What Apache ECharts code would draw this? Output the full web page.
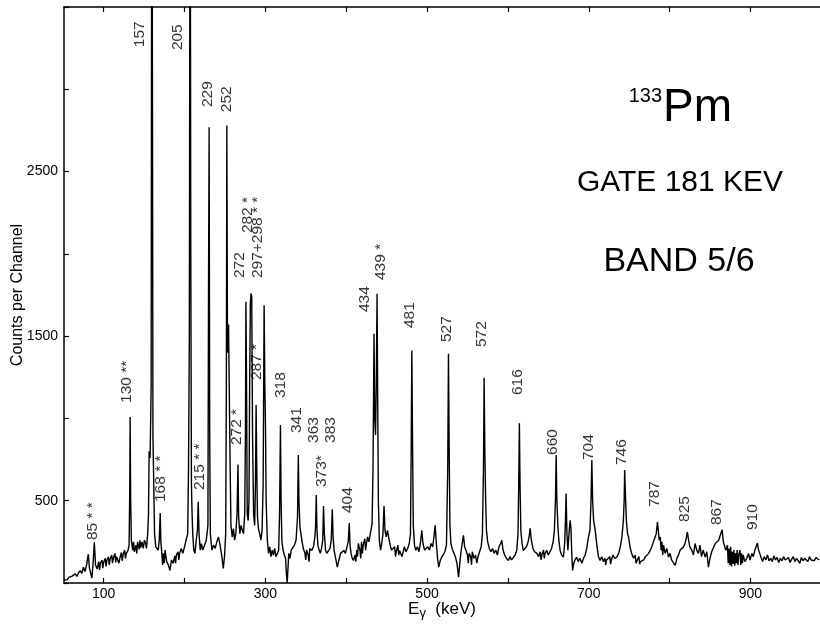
<!DOCTYPE html>
<html><head><meta charset="utf-8">
<script src="https://cdn.jsdelivr.net/npm/echarts@6/dist/echarts.min.js"></script>
<style>html,body{margin:0;padding:0;background:#fff}#c{width:820px;height:624px}</style>
</head><body><div id="c"></div>
<script>
// ---- data ----
const xLabelValues = [100, 300, 500, 700, 900];
const xTickValues = [100, 200, 300, 400, 500, 600, 700, 800, 900];
const yLabelValues = [500, 1500, 2500];

// [energy keV, counts per channel]
const spectrum = [
[51,18],[53,26],[55,20],[57,34],[59,28],[61,42],[63,36],[65,55],[67,40],[69,62],[71,75],[73,58],[75,96],[77,70],[79,110],[81,175],[82.5,90],[84,60],[85.5,30],[87,120],[88.5,248],[90,110],[92,85],[94,130],[95,80],[96,120],[98,140],[99,90],[100,125],[102,150],[103,100],[104,138],[106,160],[107,110],[108,145],[110,170],[111,120],[112,150],[114,180],[115,125],[116,160],[118,168],[119,120],[120,150],[122,185],[123,135],[124,170],[126,200],[127,150],[128,180],[130,195],
[131.5,230],[132.3,560],[132.8,1008],[133.4,520],[134.3,260],[136,200],[137,250],[138,190],[140,230],[141,180],[142,250],[144,205],[145,260],[146,215],[147.5,250],[149,210],[150.5,260],[152,240],
[153,210],[154.5,300],[155.5,420],[156.3,800],[157.5,760],[158.8,1200],[159.6,5000],[160.4,3000],[161,900],[162,600],[163,300],[164.5,220],
[166,230],[167.5,200],[168.8,260],[170,425],[170.8,250],[172,180],[173,110],[174,180],[175,120],[176,200],[178,130],[180,110],[182,76],[184,140],[186,120],[188,165],[189,120],[190,170],[192,190],[193,140],[194,180],[196,210],[198,180],[200,220],[202,260],
[204,300],[205,700],[206,1480],[207,5000],[207.8,2000],[208.6,600],[209.3,440],[210.2,300],[211.5,200],[213,180],[214.5,260],[216,320],[217,493],[218,300],[219.5,200],[221,240],[222.5,200],[224,218],[225.5,240],[227,260],
[229,350],[229.8,1870],[230.5,2770],[231.2,900],[232,300],[234,200],[236,230],[238,210],[240,250],[242,280],[244,230],[246,170],[248,88],[249.5,160],
[251,300],[251.8,1200],[252.4,2780],[253.2,1400],[254.5,1570],[255.6,1560],[256.5,700],[257.5,350],
[259,280],[260.5,330],[262,260],[263.5,300],[265,420],[266.2,720],[267,400],[268.5,300],[270,350],[271.5,320],[273,300],[274.5,420],[275.4,900],[276,1709],[276.8,1200],[277.6,420],[278.8,380],[279.8,500],[280.6,1200],[281.5,1700],[282.3,1759],[283.2,1740],[284.2,900],[285.5,420],[286.8,350],[287.8,600],[288.6,1082],[289.4,700],[290.3,400],[291.5,330],[293,300],[294.5,260],[296,320],[297.3,600],[298.5,1688],[299.4,1200],[300.2,950],[301,500],[302.5,260],[304,180],[305.5,220],[307,160],[308.5,200],[310,170],[311.5,210],[313,160],[315,180],[316.5,200],[317.6,420],[318.7,960],[319.5,500],[320.5,250],[322,200],[323.5,170],[325,150],[326.3,40],[327,0],[327.7,60],[329,180],[330.5,150],[332,200],[334,198],[336,230],[338,260],[339.8,400],[340.8,777],[341.6,500],[342.8,340],[344,300],[345.5,250],[347,210],[349,180],[350,140],[351,200],[353,170],[354,130],[355,210],[357.5,198],[359.5,220],[361.3,280],[362.2,350],[363,535],[363.8,330],[365,230],[366.5,200],[368,180],[369.5,210],[371,260],[372,468],[373,300],[374.5,200],[376,180],[378,180],[380,210],[381.5,260],[382.8,448],[383.8,280],[385,200],[387,150],[389,96],[391,140],[393,180],[395,170],[397,198],[399,180],[401,220],[402.5,250],[403.8,365],[404.8,230],[406,180],[407.5,150],[409,137],[411,170],[412,130],[413,200],[414,160],[415,240],[417,200],[418,150],[419,250],[420,180],[421,230],[423,270],[424,200],[425,240],[426.5,280],[428,250],[429.5,290],[430.8,300],[432,360],[433.2,700],[434.4,1515],[435.3,1000],[436.3,900],[437.2,1200],[438.2,1758],[439,1100],[439.8,500],[441,260],[442.5,200],[444,240],[445.5,300],[446.8,468],[448,320],[449.5,280],[451,320],[452.5,280],[454,240],[456,200],[458,198],[460,220],[461,160],[462,190],[464,230],[465,170],[466,198],[468,210],[469,160],[470,180],[472,220],[474,190],[476,210],[478,240],[479.5,300],[480.4,800],[481.2,1412],[482,900],[483,350],[484.5,230],[486,198],[488,220],[490,190],[492,250],[493.5,320],[495,240],[497,200],[499,190],[501,220],[503,200],[505,240],[507,220],[508.5,280],[510,350],[511.5,240],[513,150],[514.5,96],[516,130],[518,157],[520,170],[522,190],[524,230],[525.6,700],[526.5,1393],[527.4,800],[528.3,350],[529.5,240],[531,210],[533,198],[535,160],[537,120],[539,35],[540.5,120],[542,190],[543.5,240],[545,290],[546.5,220],[548,200],[550,170],[551,120],[552,180],[554,160],[555,110],[556,190],[558,150],[560,170],[561.6,120],[563,160],[565,190],[567,220],[568.5,300],[569.8,700],[570.6,1247],[571.5,800],[572.5,500],[573.5,320],[575,250],[577,210],[579,190],[581,210],[583,180],[585,200],[587,170],[589,220],[591,240],[592.5,259],[594,200],[596,170],[598,150],[600.7,137],[602.5,160],[604.5,140],[607,157],[609,170],[611,200],[612.5,300],[613.4,600],[614.2,970],[615,600],[616,320],[617.5,240],[619,198],[621,190],[623,220],[625,250],[626.5,290],[627.5,332],[629,260],[631,210],[633,190],[635.8,180],[638,160],[640,190],[641,140],[642,170],[644,200],[645,150],[646,180],[648,198],[650,170],[652,190],[654,210],[656,250],[657.5,320],[658.8,500],[659.7,777],[660.6,500],[661.8,350],[663,260],[664.6,198],[666.5,170],[668.7,157],[670.3,250],[671.3,400],[672,544],[673,300],[674.2,200],[675,259],[676.2,340],[677,381],[678,330],[679,180],[680,76],[681.5,120],[683,140],[685,157],[687,130],[689,150],[691.5,120],[693.5,150],[695.5,170],[697.5,210],[699.6,278],[701.5,320],[702.8,500],[703.8,747],[704.8,500],[706,380],[708,320],[710,230],[712,160],[714,137],[716,160],[718,130],[720,150],[721,110],[722,140],[724,137],[726,160],[727,115],[728,140],[730,170],[732,150],[734.7,157],[737,180],[739,220],[741,278],[742.8,380],[743.8,500],[744.4,686],[745.3,550],[746.5,380],[748,300],[749.3,278],[751,220],[753,180],[755.5,150],[757.5,170],[758.5,120],[760,140],[762,160],[763,115],[764,130],[766,120],[768,140],[770,160],[772,150],[774,180],[776,198],[778,220],[780,250],[782,278],[783.5,300],[785,371],[786,320],[787.2,260],[788.5,280],[789.5,200],[790.5,250],[791.5,170],[792.5,230],[794.5,180],[796.5,210],[798.6,157],[800.5,180],[802.5,140],[805,120],[807,107],[809,150],[811,170],[813,200],[815,190],[817,218],[819,240],[820.5,270],[822,310],[823.5,260],[825,220],[827.5,198],[829.5,170],[831.5,240],[833.5,200],[835.7,180],[837.5,230],[839.5,160],[841.5,200],[844,157],[846,190],[848,96],[850,150],[852,190],[854.5,218],[856.5,240],[858.5,230],[860.6,258],[862.5,270],[864.9,324],[866.5,250],[868,240],[869.5,198],[871.5,230],[872.5,120],[873.5,210],[874.5,110],[875.5,220],[876.5,100],[877.5,190],[878.5,115],[879.5,200],[880.5,105],[881.5,180],[882.5,120],[883.5,200],[884.5,110],[885.5,170],[887,200],[888,110],[889,180],[890,120],[891,170],[893,130],[895.5,150],[897.5,180],[899.5,140],[901.7,180],[903.5,160],[905.5,200],[907.2,210],[908.6,243],[910,200],[911.5,180],[913,157],[915,130],[917,160],[919,140],[921,170],[923,135],[925,150],[927,130],[929,165],[931,140],[933,155],[935,125],[937,150],[939,135],[941,160],[943,140],[945,130],[947,155],[949,125],[951,145],[953,160],[955,130],[957,150],[959,140],[961,120],[963,155],[965,135],[967,150],[969,145],[971,130],[973,160],[975,140],[977,150],[979,135],[981,155],[983,150],[985,140]
];

// peak annotations: [text, energy keV, counts level where the label starts]
const peakLabels = [
['85 * *', 86, 261], ['130 **', 129, 1094], ['157', 145, 3256], ['205', 191.5, 3238],
['168 * *', 171, 492], ['215 * *', 219.4, 565], ['229', 229, 2892], ['252', 252.8, 2861],
['272', 268.8, 1853], ['282 *', 278.7, 2126], ['297+298 * *', 291, 1853], ['287 *', 289.9, 1233],
['272 *', 265, 838], ['318', 319.5, 1124], ['341', 339.3, 911], ['363', 360.4, 851],
['383', 381.4, 851], ['373*', 370.3, 583], ['404', 402.4, 425], ['434', 423.5, 1646],
['439 *', 443.2, 1841], ['481', 479.1, 1549], ['527', 524.9, 1464], ['572', 568.2, 1434],
['616', 612.7, 1142], ['660', 656, 778], ['704', 700.5, 747], ['746', 741.3, 717],
['787', 782.1, 462], ['825', 819.2, 371], ['867', 858.8, 352], ['910', 903.3, 322]
];

// ---- chart ----
const FONT = '"Liberation Sans", Arial, sans-serif';
const chart = echarts.init(document.getElementById('c'), null, {renderer: 'canvas'});
const axisBlack = {lineStyle: {color: '#000', width: 1.5}};
chart.setOption({
  backgroundColor: '#fff',
  animation: false,
  textStyle: {fontFamily: FONT, color: '#000'},
  grid: {left: 64, right: 0, top: 7, bottom: 41, outerBoundsMode: 'none'},
  xAxis: [{
    type: 'value', min: 51, max: 986, position: 'bottom',
    axisLine: axisBlack,
    axisTick: {inside: true, length: 5, lineStyle: {color: '#000', width: 1.2}, customValues: xTickValues},
    axisLabel: {color: '#000', fontSize: 14, fontFamily: FONT, margin: 4, customValues: xLabelValues},
    splitLine: {show: false},
    name: '{e|E}{g|γ}{e|  (keV)}', nameLocation: 'middle', nameGap: 15, nameMoveOverlap: false,
    nameTextStyle: {color: '#000', fontFamily: FONT, verticalAlign: 'top',
      rich: {e: {fontSize: 17, fontFamily: FONT, color: '#000'}, g: {fontSize: 13, fontFamily: FONT, color: '#000', padding: [9, 0, 0, 0]}}}
  }, {
    type: 'value', min: 51, max: 986, position: 'top',
    axisLine: axisBlack,
    axisTick: {inside: true, length: 5, lineStyle: {color: '#000', width: 1.2}, customValues: xTickValues},
    axisLabel: {show: false},
    splitLine: {show: false}
  }],
  yAxis: {
    type: 'value', min: 0, max: 3500, interval: 500,
    axisLine: {show: true, lineStyle: {color: '#000', width: 1.5}},
    axisTick: {show: true, inside: true, length: 5, lineStyle: {color: '#000', width: 1.2}},
    axisLabel: {color: '#000', fontSize: 14, fontFamily: FONT, margin: 6,
      formatter: v => yLabelValues.includes(v) ? String(v) : ''},
    splitLine: {show: false},
    name: 'Counts per Channel', nameLocation: 'middle', nameGap: 38, nameRotate: 90, nameMoveOverlap: false,
    nameTextStyle: {color: '#000', fontSize: 16, fontFamily: FONT}
  },
  series: [{
    type: 'line', data: spectrum, xAxisIndex: 0, yAxisIndex: 0,
    showSymbol: false, symbol: 'none', clip: true,
    lineStyle: {color: '#000', width: 1.4}, z: 3
  }, {
    type: 'scatter', xAxisIndex: 0, yAxisIndex: 0, symbolSize: 0, silent: true,
    data: peakLabels.map(p => ({name: p[0], value: [p[1], p[2]]})),
    label: {show: true, formatter: '{b}', position: 'inside', rotate: 90,
      align: 'left', verticalAlign: 'middle', color: '#000', fontSize: 15.5, fontFamily: FONT},
    z: 5
  }],
  graphic: [
    {type: 'text', x: 662, y: 96, style: {text: '133', font: '20px ' + FONT, fill: '#000', textAlign: 'right', textVerticalAlign: 'middle'}},
    {type: 'text', x: 663, y: 108, style: {text: 'Pm', font: '46px ' + FONT, fill: '#000', textAlign: 'left', textVerticalAlign: 'middle'}},
    {type: 'text', x: 680, y: 183, style: {text: 'GATE 181 KEV', font: '30px ' + FONT, fill: '#000', textAlign: 'center', textVerticalAlign: 'middle'}},
    {type: 'text', x: 679, y: 262, style: {text: 'BAND 5/6', font: '34px ' + FONT, fill: '#000', textAlign: 'center', textVerticalAlign: 'middle'}}
  ]
});
</script></body></html>
